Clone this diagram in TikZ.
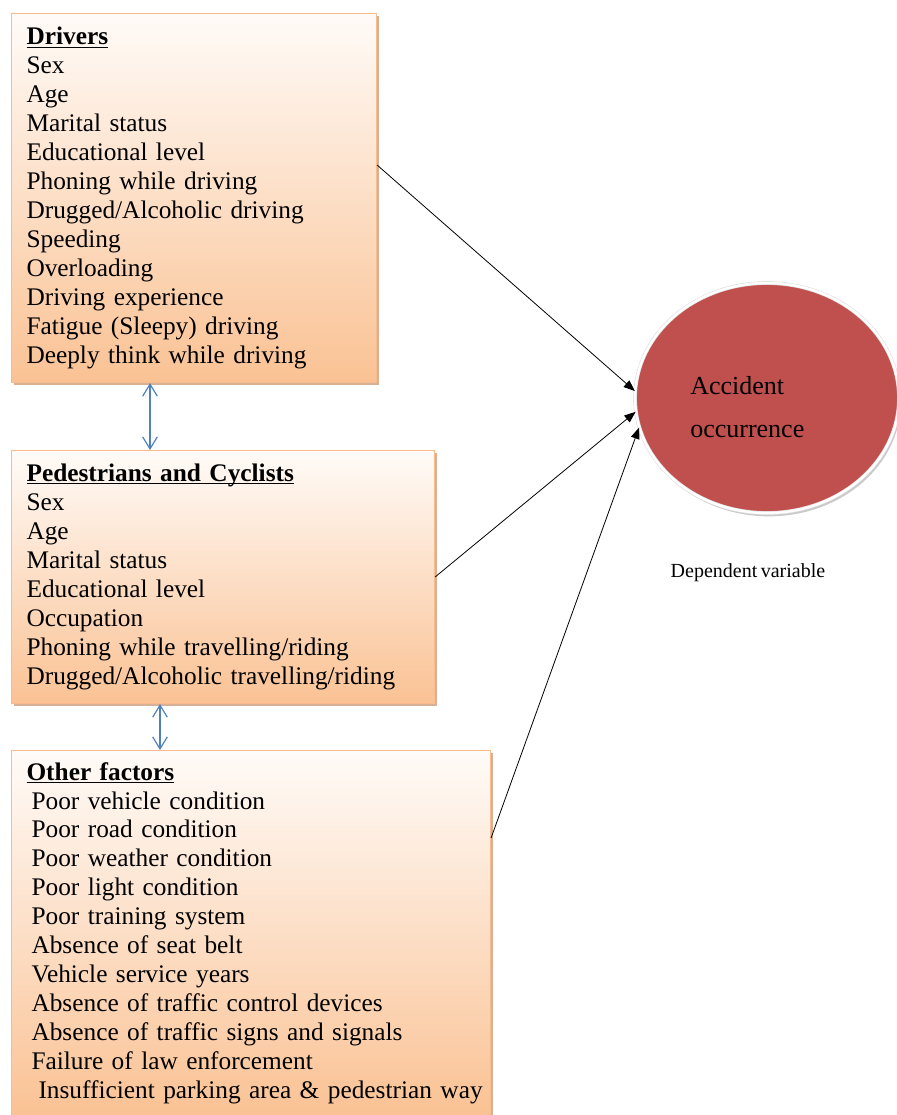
\documentclass[tikz,border=0pt]{standalone}
\usepackage{fontspec}
\setmainfont{Liberation Serif}[WordSpace=0.7]
\usetikzlibrary{arrows.meta,shapes.geometric,shadows,calc}

\definecolor{peach}{RGB}{250,194,148}
\definecolor{peachlight}{RGB}{255,251,248}
\definecolor{peachedge}{RGB}{250,188,140}
\definecolor{shadowtan}{RGB}{205,158,122}
\definecolor{accred}{RGB}{192,80,77}
\definecolor{linkblue}{RGB}{79,129,189}

\newcommand{\grouphead}[1]{\underline{\smash{\textbf{#1}}}\vphantom{\textbf{#1}}}

\begin{document}
\begin{tikzpicture}[
	x=0.75pt,
	y=-0.75pt,
	factor/.style={
		rectangle,
		draw=peachedge,
		line width=0.8pt,
		anchor=north west,
		align=left,
		inner xsep=11.25pt,
		inner ysep=0pt,
		top color=peachlight,
		bottom color=peach,
		drop shadow={shadow xshift=2pt, shadow yshift=-2pt, fill=shadowtan, opacity=0.8},
		font=\fontsize{19}{21.7}\selectfont
	},
	outcome/.style={
		ellipse,
		fill=accred,
		draw=black!12,
		line width=0.5pt,
		double=white,
		double distance=1.8pt,
		minimum width=198pt,
		minimum height=172.5pt,
		drop shadow={shadow xshift=1.5pt, shadow yshift=-2.5pt, fill=black!35, opacity=0.6}
	},
	cause/.style={
		line width=0.6pt,
		-{Triangle[length=8.5pt,width=6.5pt]}
	},
	link/.style={
		draw=linkblue,
		line width=0.9pt,
		{Straight Barb[length=9pt,width=11pt]}-{Straight Barb[length=9pt,width=11pt]}
	},
]

\useasboundingbox (0,0) rectangle (897,1115);

% independent variables
\node[factor, text width=251.25pt, minimum height=276.75pt] (drv) at (11,13) {
\grouphead{Drivers}\\
Sex\\
Age\\
Marital status\\
Educational level\\
Phoning while driving\\
Drugged/Alcoholic driving\\
Speeding\\
Overloading\\
Driving experience\\
Fatigue (Sleepy) driving\\
Deeply think while driving};

\node[factor, text width=294.75pt, minimum height=189.75pt] (ped) at (11,450) {
\grouphead{Pedestrians and Cyclists}\\
Sex\\
Age\\
Marital status\\
Educational level\\
Occupation\\
Phoning while travelling/riding\\
Drugged/Alcoholic travelling/riding};

\node[factor, text width=336.75pt, minimum height=273.75pt] (oth) at (11,750) {
\grouphead{Other factors}\\
\hspace*{3.75pt}Poor vehicle condition\\
\hspace*{3.75pt}Poor road condition\\
\hspace*{3.75pt}Poor weather condition\\
\hspace*{3.75pt}Poor light condition\\
\hspace*{3.75pt}Poor training system\\
\hspace*{3.75pt}Absence of seat belt\\
\hspace*{3.75pt}Vehicle service years\\
\hspace*{3.75pt}Absence of traffic control devices\\
\hspace*{3.75pt}Absence of traffic signs and signals\\
\hspace*{3.75pt}Failure of law enforcement\\
\hspace*{9pt}\mbox{Insufficient parking area \& pedestrian way}};

% dependent variable
\node[outcome] (acc) at (767,398) {};
\node[anchor=west, inner sep=0pt, align=left, font=\fontsize{19.5}{32.25}\selectfont] (acctext) at (690,407) {Accident\\occurrence};
\node[font=\fontsize{15}{18}\selectfont] (dep) at (748,573) {Dependent variable};

% links between the groups
\draw[link] ($(drv.south west)+(139,0)$) -- ($(ped.north west)+(139,0)$);
\draw[link] ($(ped.south west)+(149,0)$) -- ($(oth.north west)+(149,0)$);

% effects on the outcome
\draw[cause] ($(drv.north east)+(0,152)$) -- (acc.177);
\draw[cause] ($(ped.north east)+(0,127)$) -- (acc.186);
\draw[cause] ($(oth.north east)+(0,88)$) -- (acc.193);

\end{tikzpicture}
\end{document}
